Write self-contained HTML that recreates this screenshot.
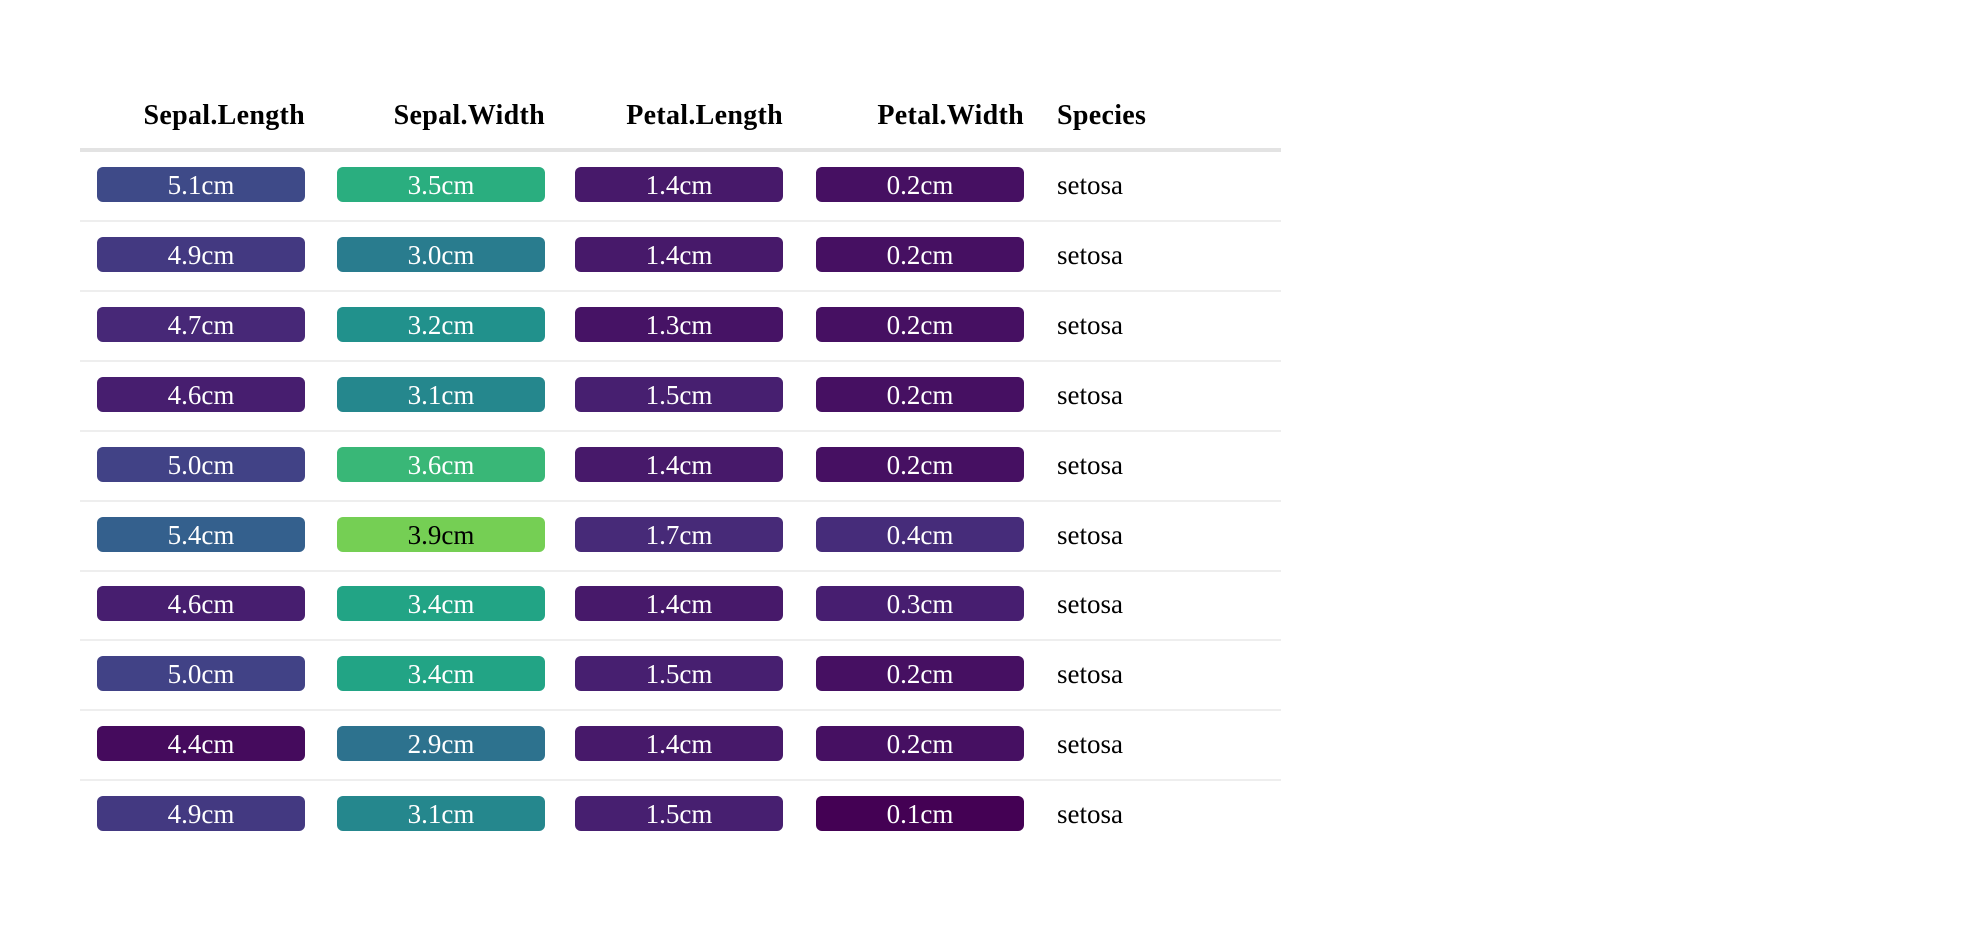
<!DOCTYPE html>
<html><head><meta charset="utf-8">
<style>
body{margin:0;width:1984px;height:930px;background:#fff;position:relative;overflow:hidden;font-family:"Liberation Serif","DejaVu Serif",serif;}
.h{position:absolute;top:100px;font-weight:bold;font-size:28px;color:#000;white-space:nowrap;letter-spacing:0.3px;}
.b{position:absolute;width:208px;height:35px;border-radius:6px;text-align:center;font-size:27px;line-height:37px;color:#fff;}
.s{position:absolute;font-size:27px;line-height:37px;color:#000;}
.ln{position:absolute;left:80px;width:1201px;height:2px;background:#eeeeee;}
</style></head><body>
<div id="tbl"></div>
<script>
const headers=["Sepal.Length","Sepal.Width","Petal.Length","Petal.Width","Species"];
const sepalLength=[5.1,4.9,4.7,4.6,5.0,5.4,4.6,5.0,4.4,4.9];
const sepalWidth=[3.5,3.0,3.2,3.1,3.6,3.9,3.4,3.4,2.9,3.1];
const petalLength=[1.4,1.4,1.3,1.5,1.4,1.7,1.4,1.5,1.4,1.5];
const petalWidth=[0.2,0.2,0.2,0.2,0.2,0.4,0.3,0.2,0.2,0.1];
const species=["setosa","setosa","setosa","setosa","setosa","setosa","setosa","setosa","setosa","setosa"];
const domains=[[4.3,7.9],[2.0,4.4],[1.0,6.9],[0.1,2.5]];
const vir=["#440154","#482475","#414487","#355f8d","#2a788e","#21918c","#22a884","#44bf70","#7ad151","#bddf26","#fde725"];
function hx(c){return [1,3,5].map(i=>parseInt(c.substr(i,2),16));}
function viridis(t){t=Math.max(0,Math.min(1,t));const p=t*10,i=Math.min(9,Math.floor(p)),f=p-i;
const a=hx(vir[i]),b=hx(vir[i+1]);return "rgb("+a.map((v,k)=>Math.round(v+(b[k]-v)*f)).join(",")+")";}
const tbl=document.getElementById('tbl');
const colX=[97,337,575,816];const speciesX=1057;const rowTop=167,pitch=69.9;
headers.forEach((h,i)=>{const d=document.createElement('div');d.className='h';d.textContent=h;
if(i<4){d.style.right=(1984-(colX[i]+208))+'px';}else{d.style.left=speciesX+'px';}


tbl.appendChild(d);});
const hl=document.createElement('div');hl.className='ln';hl.style.top='148px';hl.style.height='4px';hl.style.background='#e3e3e3';


tbl.appendChild(hl);
const cols=[sepalLength,sepalWidth,petalLength,petalWidth];
for(let r=0;r<10;r++){const y=rowTop+r*pitch;
cols.forEach((arr,c)=>{const v=arr[r];const t=(v-domains[c][0])/(domains[c][1]-domains[c][0]);
const d=document.createElement('div');d.className='b';d.style.left=colX[c]+'px';d.style.top=y+'px';
d.style.background=viridis(t);if(t>0.75)d.style.color='#000';d.textContent=v.toFixed(1)+'cm';


tbl.appendChild(d);});
const s=document.createElement('div');s.className='s';s.style.left=speciesX+'px';s.style.top=y+'px';s.textContent=species[r];


tbl.appendChild(s);
if(r<9){const l=document.createElement('div');l.className='ln';l.style.top=(y+53)+'px';


tbl.appendChild(l);}
}
</script>
</body></html>
